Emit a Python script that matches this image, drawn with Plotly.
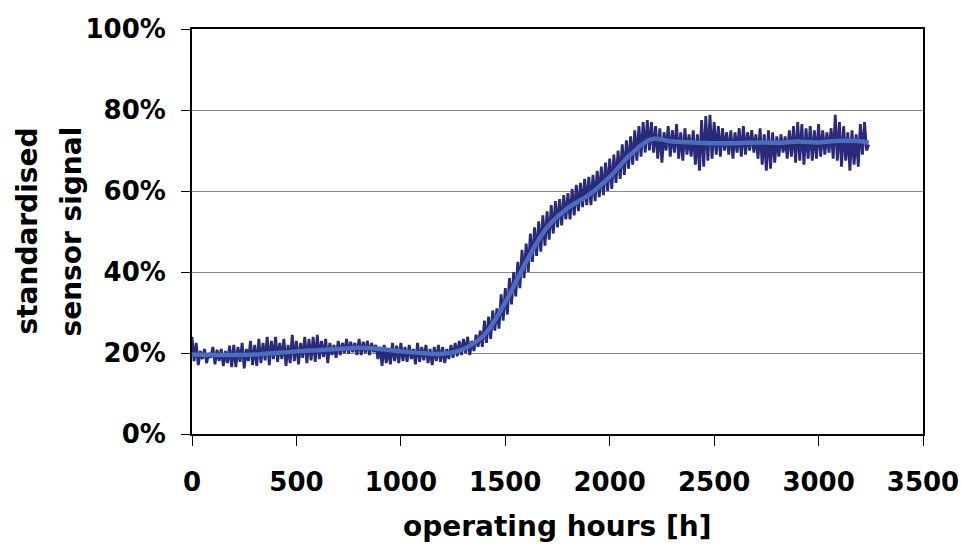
import plotly.graph_objects as go

# operating hours for the raw (noisy) signal, 10 h sampling
hours_raw = list(range(0, 3241, 10))
signal_raw = [
    24.0, 18.0, 22.5, 17.0, 20.5, 18.5, 21.0, 17.5, 20.0, 18.8, 21.5, 17.2, 20.8, 18.0, 21.0, 16.8, 20.5, 17.5, 21.8, 16.5,
    22.0, 16.5, 21.5, 17.8, 22.5, 16.2, 21.0, 18.0, 23.0, 17.0, 22.0, 16.8, 23.5, 17.5, 22.5, 18.2, 24.0, 17.0, 23.0, 18.5,
    24.0, 17.8, 22.5, 18.5, 23.5, 16.8, 22.0, 17.5, 24.5, 18.0, 23.0, 17.2, 22.5, 18.8, 24.0, 17.5, 23.5, 18.2, 24.0, 17.8,
    24.5, 18.5, 23.0, 19.0, 23.5, 17.5, 22.5, 19.5, 22.0, 18.8, 23.0, 19.5, 22.5, 20.0, 23.5, 19.8, 22.8, 20.2, 22.5, 19.5,
    23.5, 19.5, 22.8, 20.0, 23.0, 19.5, 22.5, 20.2, 22.0, 18.5, 21.5, 16.8, 22.0, 17.5, 21.0, 17.2, 22.5, 18.0, 21.8, 17.5,
    22.5, 18.0, 21.5, 17.8, 22.0, 18.5, 21.0, 17.2, 22.5, 17.8, 21.5, 18.2, 22.0, 17.5, 21.0, 17.0, 21.5, 18.0, 22.0, 17.8,
    21.5, 17.5, 21.0, 18.5, 22.0, 18.8, 22.5, 19.2, 23.0, 19.5, 23.5, 20.0, 24.0, 19.5, 23.0, 20.5, 24.5, 21.5, 25.5, 21.5,
    28.0, 22.5, 29.0, 23.5, 30.5, 25.5, 31.0, 26.0, 34.5, 28.0, 36.0, 29.5, 38.5, 32.0, 40.0, 34.0, 42.5, 36.0, 45.5, 38.5,
    47.0, 40.0, 49.5, 42.5, 51.0, 44.0, 52.5, 45.0, 54.0, 46.5, 55.0, 48.0, 56.5, 49.5, 57.5, 51.0, 58.0, 51.5, 59.0, 53.0,
    59.5, 53.0, 60.5, 54.0, 61.5, 55.0, 62.0, 56.0, 63.0, 56.5, 63.5, 56.5, 64.0, 57.5, 65.0, 58.5, 66.0, 59.0, 67.0, 60.0,
    68.0, 60.5, 69.0, 62.0, 70.0, 63.0, 71.5, 64.0, 72.5, 65.5, 73.5, 66.5, 75.0, 67.5, 76.0, 68.5, 77.0, 69.5, 77.5, 70.0,
    77.0, 69.5, 76.0, 68.0, 75.5, 67.0, 74.5, 70.0, 76.0, 68.5, 75.0, 69.5, 76.5, 68.0, 74.5, 67.5, 75.5, 69.0, 74.0, 68.5,
    75.0, 66.5, 74.0, 65.0, 77.5, 66.0, 78.5, 67.5, 78.8, 68.0, 77.0, 69.0, 76.0, 68.5, 75.5, 70.0, 74.5, 69.0, 75.0, 68.0,
    74.5, 69.5, 75.5, 68.5, 76.0, 69.0, 74.5, 70.0, 75.0, 69.5, 74.0, 68.0, 75.5, 66.5, 74.0, 65.0, 75.0, 65.5, 74.5, 67.0,
    73.5, 68.5, 74.0, 69.5, 73.5, 68.0, 75.0, 68.5, 76.0, 67.0, 77.0, 67.5, 76.5, 66.5, 75.5, 68.0, 76.0, 67.5, 75.0, 68.0,
    76.5, 68.5, 75.0, 69.0, 74.5, 69.5, 75.5, 68.0, 78.8, 67.5, 77.0, 66.0, 76.0, 67.5, 74.5, 65.0, 75.0, 66.5, 74.0, 66.0,
    76.5, 69.0, 77.0, 70.0, 71.5,
]

# smoothed signal
hours_smooth = [0, 100, 200, 300, 400, 500, 600, 700, 800, 900, 1000, 1100,
                1200, 1300, 1400, 1500, 1600, 1700, 1800, 1900, 2000, 2100,
                2200, 2300, 2400, 2500, 2600, 2700, 2800, 2900, 3000, 3100,
                3200, 3240]
signal_smooth = [19.6, 19.5, 19.5, 19.6, 20.0, 20.4, 20.7, 21.0, 21.3, 21.0,
                 20.4, 20.0, 19.8, 21.0, 24.5, 32.5, 42.5, 51.0, 55.8, 59.0,
                 63.5, 69.0, 72.8, 72.2, 72.0, 71.8, 71.8, 72.0, 71.9, 72.2,
                 72.0, 72.4, 72.3, 71.9]

x_ticks = [0, 500, 1000, 1500, 2000, 2500, 3000, 3500]
y_ticks = [0, 20, 40, 60, 80, 100]
y_tick_labels = ["0%", "20%", "40%", "60%", "80%", "100%"]

FONT = "DejaVu Sans"

fig = go.Figure()
fig.add_trace(go.Scatter(x=hours_raw, y=signal_raw, mode="lines",
                         line=dict(color="#2A2A78", width=2.8),
                         showlegend=False, hoverinfo="skip"))
fig.add_trace(go.Scatter(x=hours_smooth, y=signal_smooth, mode="lines",
                         line=dict(color="#4A6EBE", width=4.5, shape="spline"),
                         showlegend=False, hoverinfo="skip"))

fig.update_layout(
    width=961, height=545,
    margin=dict(l=192, r=38, t=29, b=111, autoexpand=False),
    paper_bgcolor="white", plot_bgcolor="white",
    font=dict(family=FONT, color="black"),
    xaxis=dict(range=[0, 3500], tickvals=x_ticks, showgrid=False, zeroline=False,
               showline=True, linecolor="black", linewidth=2, mirror=True,
               ticks="outside", ticklen=10, tickwidth=1, tickcolor="black",
               tickfont=dict(family=FONT, size=26, weight="bold"),
               ticklabelstandoff=14, automargin=False),
    yaxis=dict(range=[0, 100], tickvals=y_ticks, ticktext=y_tick_labels,
               showgrid=True, gridcolor="#888888", gridwidth=1, zeroline=False,
               showline=True, linecolor="black", linewidth=2, mirror=True,
               ticks="outside", ticklen=9, tickwidth=1, tickcolor="black",
               tickfont=dict(family=FONT, size=26, weight="bold"),
               ticklabelstandoff=10, automargin=False),
    annotations=[
        dict(text="standardised", xref="paper", yref="paper", x=0, y=0.5,
             xanchor="center", yanchor="middle", xshift=-165, textangle=-90,
             showarrow=False, font=dict(family=FONT, size=28, weight="bold")),
        dict(text="sensor signal", xref="paper", yref="paper", x=0, y=0.5,
             xanchor="center", yanchor="middle", xshift=-121, textangle=-90,
             showarrow=False, font=dict(family=FONT, size=28, weight="bold")),
        dict(text="operating hours [h]", xref="paper", yref="paper", x=0.5, y=0,
             xanchor="center", yanchor="middle", yshift=-92,
             showarrow=False, font=dict(family=FONT, size=28, weight="bold")),
    ],
)

fig.write_html("out.html")
